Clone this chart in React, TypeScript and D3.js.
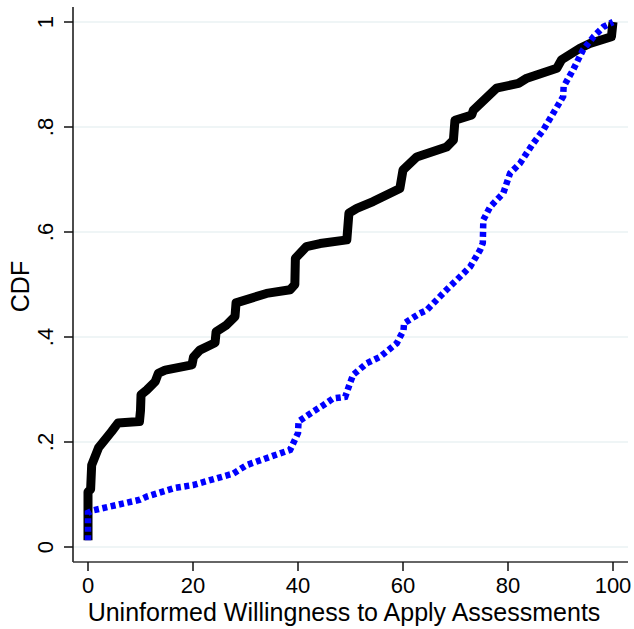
import React from "react";
import * as d3 from "d3";

const W = 634;
const H = 629;

// Black solid series (CDF)
const blackX = [0, 0, 0.5, 0.7, 2, 4.5, 5.7, 9.8, 10.0, 10.1, 11.2, 12.8, 13.4, 14.7, 19.8, 20.1, 21.3, 24.2, 24.4, 26.4, 28, 28.2, 34, 38.5, 39.4, 39.5, 41.6, 44.2, 49.3, 49.7, 51.2, 54.3, 59.4, 60.0, 62.6, 68.3, 69.6, 69.9, 73.1, 73.4, 77.8, 82, 83.6, 89.3, 90.2, 93.7, 95.6, 99.7, 100];
const blackY = [0.013, 0.105, 0.11, 0.156, 0.189, 0.22, 0.236, 0.239, 0.26, 0.29, 0.299, 0.315, 0.331, 0.337, 0.347, 0.362, 0.375, 0.389, 0.41, 0.423, 0.439, 0.465, 0.483, 0.49, 0.50, 0.55, 0.572, 0.578, 0.585, 0.636, 0.645, 0.658, 0.683, 0.718, 0.743, 0.762, 0.775, 0.813, 0.823, 0.832, 0.874, 0.883, 0.893, 0.912, 0.928, 0.95, 0.959, 0.972, 1.0];

// Blue dashed series (CDF)
const blueX = [0, 0, 1, 9.9, 11.2, 16.3, 20, 27.7, 30.2, 38.5, 40, 40.1, 42.9, 44.8, 46.7, 49, 49.9, 50.5, 53.1, 55.6, 58.8, 60.1, 60.2, 63.2, 64.5, 68.3, 71.5, 72.8, 74.7, 75.2, 75.3, 76.6, 79.1, 80.4, 82.3, 84.8, 86.7, 88.6, 90.5, 90.6, 92.4, 94.3, 96.3, 98.2, 100];
const blueY = [0.013, 0.065, 0.07, 0.09, 0.096, 0.112, 0.118, 0.14, 0.156, 0.185, 0.217, 0.239, 0.258, 0.27, 0.283, 0.286, 0.312, 0.328, 0.35, 0.362, 0.388, 0.413, 0.426, 0.445, 0.451, 0.49, 0.521, 0.534, 0.566, 0.579, 0.623, 0.648, 0.674, 0.712, 0.731, 0.769, 0.794, 0.826, 0.858, 0.877, 0.909, 0.947, 0.972, 0.991, 1.0];

const xTicks = [0, 20, 40, 60, 80, 100];
const yTicks = [0, 0.2, 0.4, 0.6, 0.8, 1];
const yTickLabels = ["0", ".2", ".4", ".6", ".8", "1"];

const xTitle = "Uninformed Willingness to Apply Assessments";
const yTitle = "CDF";

export default function App() {
  const x = d3.scaleLinear().domain([0, 100]).range([88, 613]);
  const y = d3.scaleLinear().domain([0, 1]).range([547, 22]);

  const plotLeft = 73;
  const plotRight = 628;
  const plotTop = 7;
  const plotBottom = 562;

  const line = d3
    .line<[number, number]>()
    .x((d) => x(d[0]))
    .y((d) => y(d[1]));

  const blackPts: [number, number][] = blackX.map((v, i) => [v, blackY[i]]);
  const bluePts: [number, number][] = blueX.map((v, i) => [v, blueY[i]]);

  const font = "Liberation Sans, Arial, Helvetica, sans-serif";

  return (
    <svg
      width={W}
      height={H}
      style={{ position: "absolute", left: 0, top: 0, background: "#fff" }}
      fontFamily={font}
    >
      <rect x={0} y={0} width={W} height={H} fill="#fff" />
      {yTicks.map((t) => (
        <line
          key={"g" + t}
          x1={plotLeft}
          x2={plotRight}
          y1={y(t)}
          y2={y(t)}
          stroke="#eaf2f3"
          strokeWidth={1.5}
        />
      ))}
      <path
        d={line(blackPts) || ""}
        fill="none"
        stroke="#000"
        strokeWidth={9}
        strokeLinejoin="round"
      />
      <path
        d={line(bluePts) || ""}
        fill="none"
        stroke="#0000ff"
        strokeWidth={6.5}
        strokeDasharray="5 3.5"
      />
      {/* y axis */}
      <line x1={plotLeft} x2={plotLeft} y1={plotTop} y2={plotBottom} stroke="#111" strokeWidth={1.5} />
      {yTicks.map((t, i) => (
        <g key={"yt" + t}>
          <line x1={plotLeft - 9} x2={plotLeft} y1={y(t)} y2={y(t)} stroke="#111" strokeWidth={1.5} />
          <text
            transform={`translate(53,${y(t)}) rotate(-90)`}
            textAnchor="middle"
            fontSize={22}
            fill="#000"
          >
            {yTickLabels[i]}
          </text>
        </g>
      ))}
      {/* x axis */}
      <line x1={plotLeft} x2={plotRight} y1={plotBottom} y2={plotBottom} stroke="#333" strokeWidth={1.5} />
      {xTicks.map((t) => (
        <g key={"xt" + t}>
          <line x1={x(t)} x2={x(t)} y1={plotBottom} y2={plotBottom + 9} stroke="#111" strokeWidth={1.5} />
          <text x={x(t)} y={593} textAnchor="middle" fontSize={22} fill="#000">
            {t}
          </text>
        </g>
      ))}
      <text x={344} y={621} textAnchor="middle" fontSize={25} fill="#000">
        {xTitle}
      </text>
      <text
        transform={`translate(28.5,${(plotTop + plotBottom) / 2 + 2}) rotate(-90)`}
        textAnchor="middle"
        fontSize={25}
        fill="#000"
      >
        {yTitle}
      </text>
    </svg>
  );
}
